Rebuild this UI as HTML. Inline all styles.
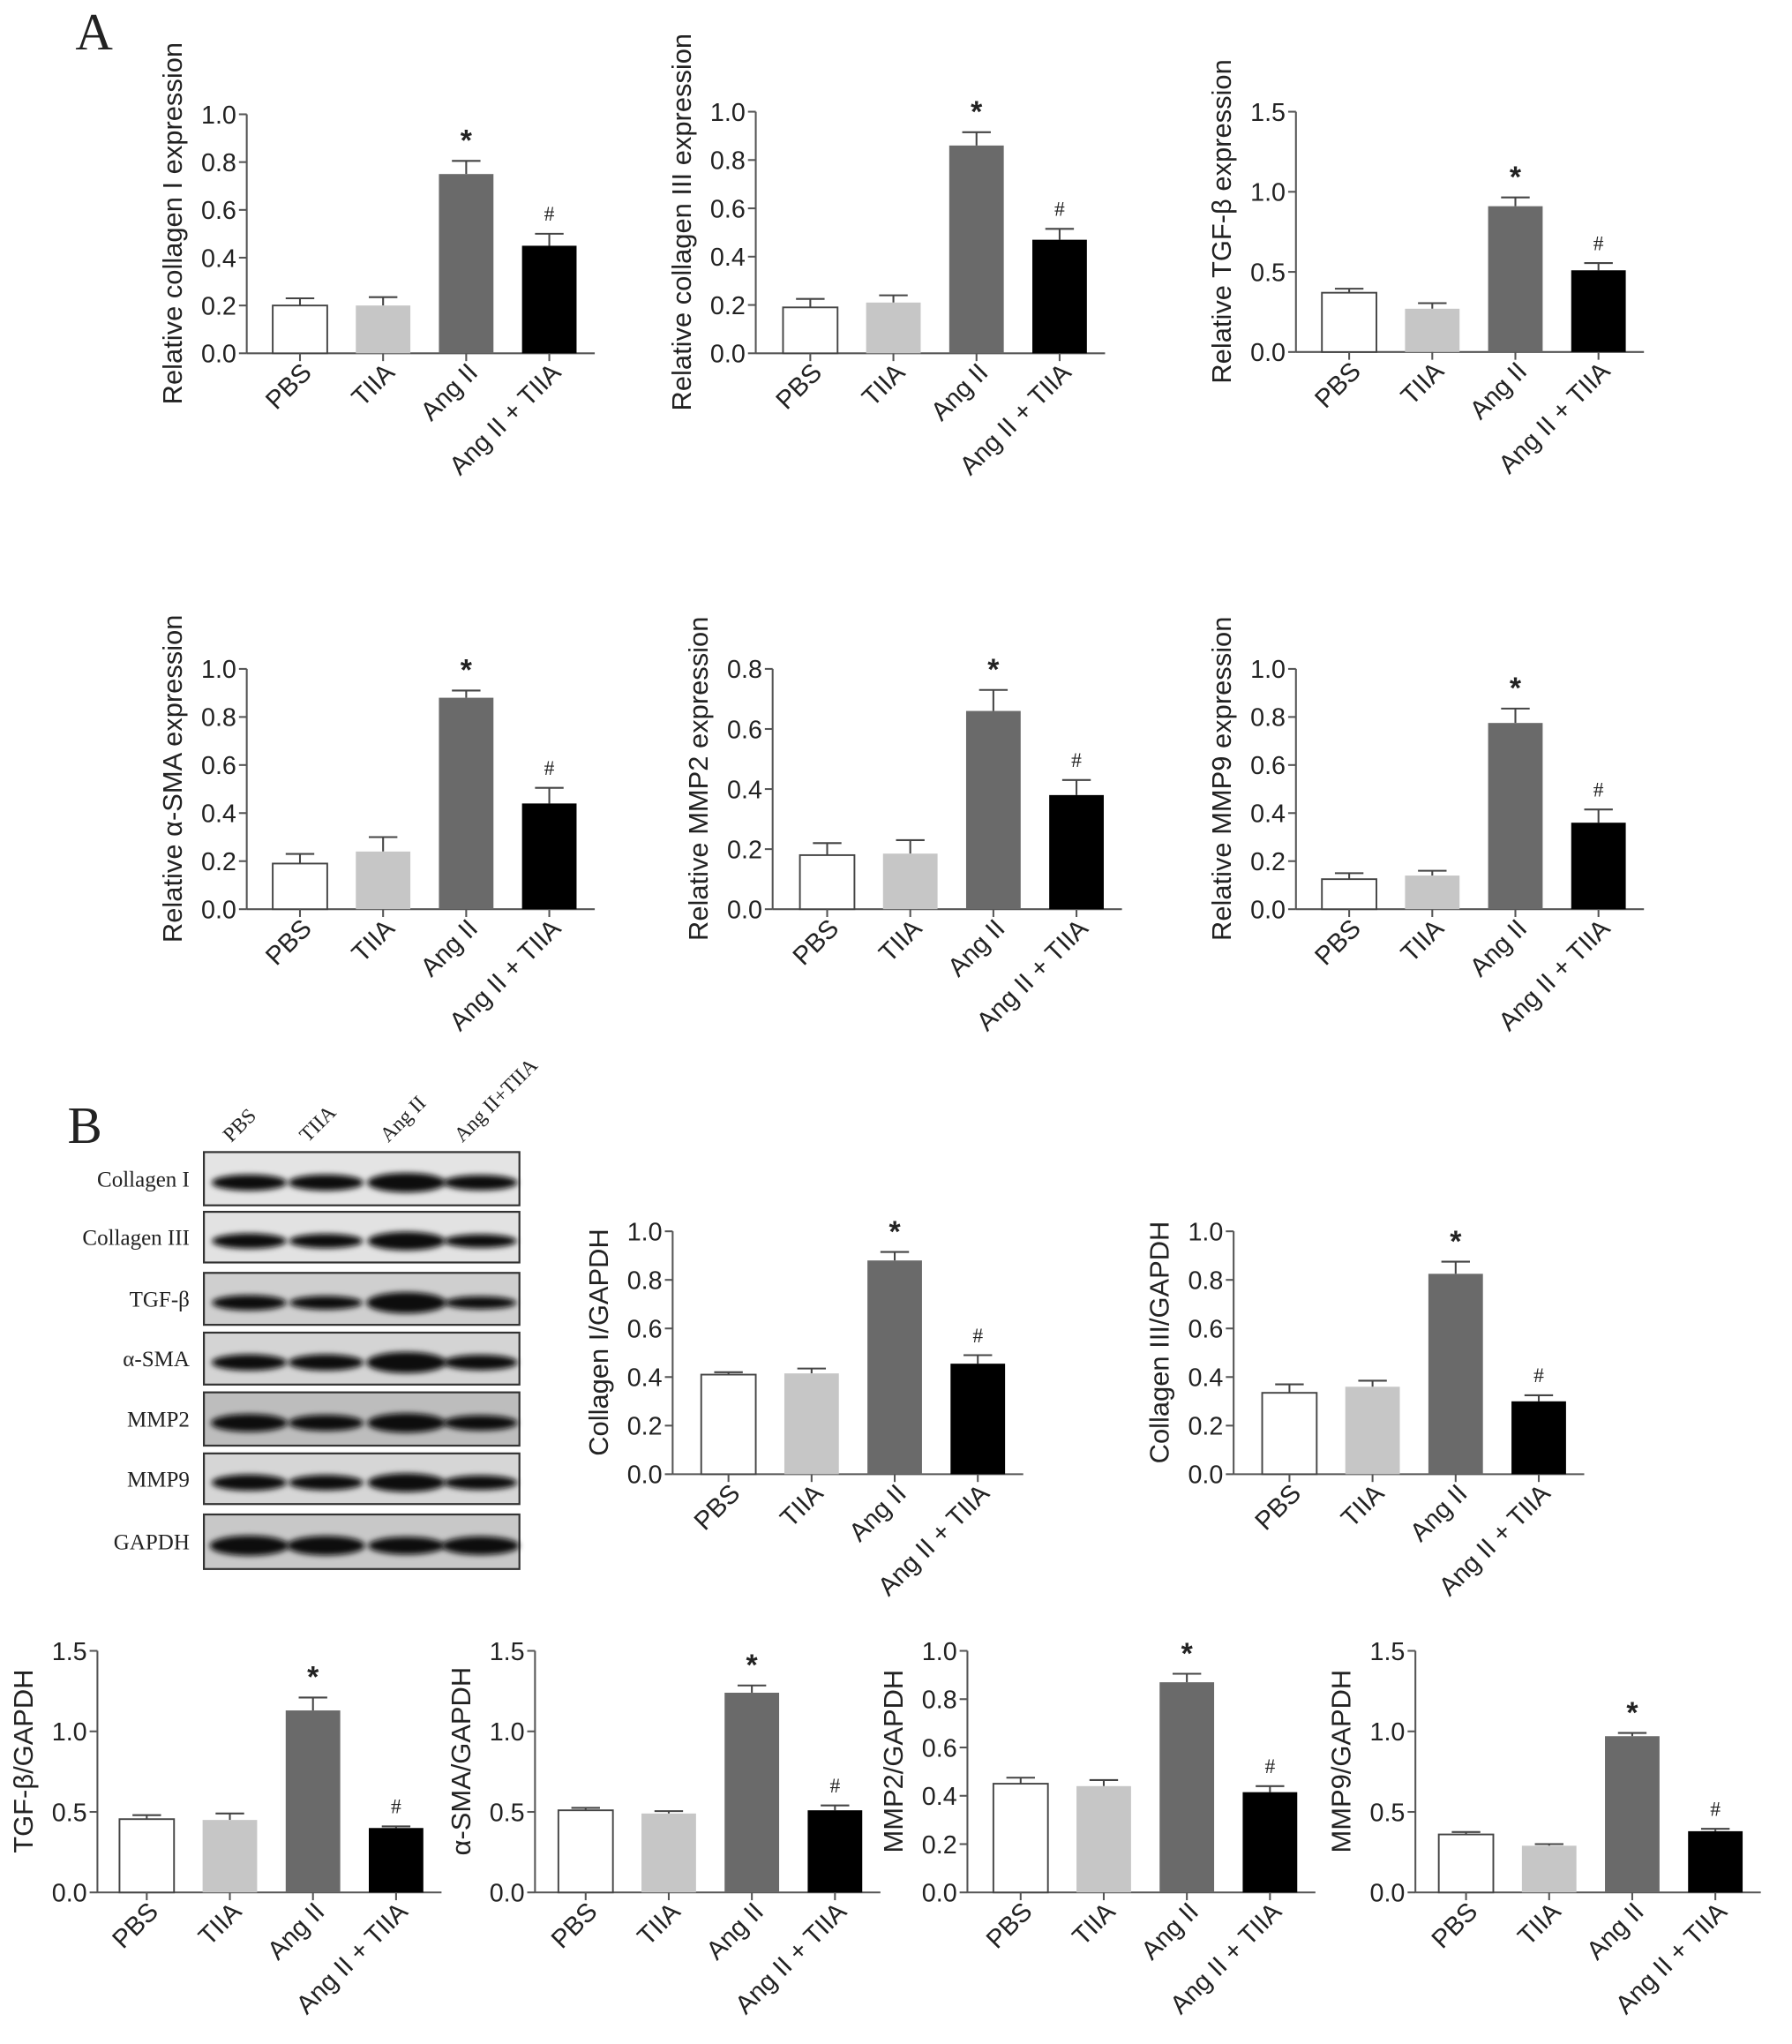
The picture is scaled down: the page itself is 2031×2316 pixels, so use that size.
<!DOCTYPE html>
<html><head><meta charset="utf-8"><style>
html,body{margin:0;padding:0;background:#fff;}
svg{display:block;}
text{font-family:"Liberation Sans",Arial,sans-serif;fill:#222;}
.serif{font-family:"Liberation Serif","Times New Roman",serif;}
</style></head><body>
<svg id="fig" width="2031" height="2316" viewBox="0 0 1380 1573.7" xmlns="http://www.w3.org/2000/svg">
<defs><filter id="blur" x="-20%" y="-50%" width="140%" height="200%"><feGaussianBlur stdDeviation="2.2"/></filter></defs>
<text class="serif" x="58" y="38" font-size="40">A</text>
<text class="serif" x="52" y="880" font-size="40">B</text>
<g id="blot"></g>
<g id="charts"></g>
</svg>
<script>
const categories = ["PBS","TIIA","Ang II","Ang II + TIIA"];
const colI_means = [0.20,0.20,0.75,0.45];   const colI_err = [0.03,0.035,0.055,0.05];
const colIII_means = [0.19,0.21,0.86,0.47]; const colIII_err = [0.035,0.03,0.055,0.045];
const tgf_means = [0.37,0.27,0.91,0.51];    const tgf_err = [0.025,0.035,0.055,0.045];
const sma_means = [0.19,0.24,0.88,0.44];    const sma_err = [0.04,0.06,0.03,0.065];
const mmp2_means = [0.18,0.185,0.66,0.38];  const mmp2_err = [0.04,0.045,0.07,0.05];
const mmp9_means = [0.125,0.14,0.775,0.36]; const mmp9_err = [0.025,0.02,0.06,0.055];
const bColI_means = [0.41,0.415,0.88,0.455]; const bColI_err = [0.01,0.02,0.035,0.035];
const bColIII_means = [0.335,0.36,0.825,0.30]; const bColIII_err = [0.035,0.025,0.05,0.025];
const bTgf_means = [0.455,0.45,1.13,0.40];  const bTgf_err = [0.025,0.04,0.08,0.01];
const bSma_means = [0.51,0.49,1.24,0.51];   const bSma_err = [0.015,0.015,0.045,0.03];
const bMmp2_means = [0.45,0.44,0.87,0.415]; const bMmp2_err = [0.025,0.025,0.035,0.025];
const bMmp9_means = [0.36,0.29,0.97,0.38];  const bMmp9_err = [0.015,0.01,0.02,0.015];
const ticks10 = [0,0.2,0.4,0.6,0.8,1.0];
const ticks08 = [0,0.2,0.4,0.6,0.8];
const ticks15 = [0,0.5,1.0,1.5];
const blotRows = ["Collagen I","Collagen III","TGF-β","α-SMA","MMP2","MMP9","GAPDH"];
const blotIntensity = [[1,1,1.4,0.9],[0.9,0.8,1.3,0.7],[0.9,0.7,1.6,0.6],[1,1,1.6,0.9],[1.2,1.0,1.4,0.9],[1,0.9,1.3,0.8],[1.5,1.4,1.2,1.3]];

const NS="http://www.w3.org/2000/svg";
function mk(tag,attrs,parent){const e=document.createElementNS(NS,tag);for(const k in attrs)e.setAttribute(k,attrs[k]);parent.appendChild(e);return e;}

const charts=[
 {name:"collagen-i-chart",title:"Relative collagen I expression",m:colI_means,e:colI_err,t:ticks10,max:1.0,ax:190,top:88,bot:272,b0:210,fmt:1},
 {name:"collagen-iii-chart",title:"Relative collagen III expression",m:colIII_means,e:colIII_err,t:ticks10,max:1.0,ax:582,top:86,bot:272,b0:603,fmt:1},
 {name:"tgf-beta-chart",title:"Relative TGF-β expression",m:tgf_means,e:tgf_err,t:ticks15,max:1.5,ax:998,top:86,bot:271,b0:1018,fmt:1},
 {name:"alpha-sma-chart",title:"Relative α-SMA expression",m:sma_means,e:sma_err,t:ticks10,max:1.0,ax:190,top:515,bot:700,b0:210,fmt:1},
 {name:"mmp2-chart",title:"Relative MMP2 expression",m:mmp2_means,e:mmp2_err,t:ticks08,max:0.8,ax:595,top:515,bot:700,b0:616,fmt:1},
 {name:"mmp9-chart",title:"Relative MMP9 expression",m:mmp9_means,e:mmp9_err,t:ticks10,max:1.0,ax:998,top:515,bot:700,b0:1018,fmt:1},
 {name:"collagen-i-gapdh-chart",title:"Collagen I/GAPDH",m:bColI_means,e:bColI_err,t:ticks10,max:1.0,ax:518,top:948,bot:1135,b0:540,fmt:1},
 {name:"collagen-iii-gapdh-chart",title:"Collagen III/GAPDH",m:bColIII_means,e:bColIII_err,t:ticks10,max:1.0,ax:950,top:948,bot:1135,b0:972,fmt:1},
 {name:"tgf-beta-gapdh-chart",title:"TGF-β/GAPDH",m:bTgf_means,e:bTgf_err,t:ticks15,max:1.5,ax:75,top:1271,bot:1457,b0:92,fmt:1},
 {name:"alpha-sma-gapdh-chart",title:"α-SMA/GAPDH",m:bSma_means,e:bSma_err,t:ticks15,max:1.5,ax:412,top:1271,bot:1457,b0:430,fmt:1},
 {name:"mmp2-gapdh-chart",title:"MMP2/GAPDH",m:bMmp2_means,e:bMmp2_err,t:ticks10,max:1.0,ax:745,top:1271,bot:1457,b0:765,fmt:1},
 {name:"mmp9-gapdh-chart",title:"MMP9/GAPDH",m:bMmp9_means,e:bMmp9_err,t:ticks15,max:1.5,ax:1090,top:1271,bot:1457,b0:1108,fmt:1}
];
const fills=["#ffffff","#c6c6c6","#6a6a6a","#000000"];
const root=document.getElementById("charts");
charts.forEach(c=>{
  const g=mk("g",{},root);
  
  
  const y=v=>c.bot-(v/c.max)*(c.bot-c.top);
  const bw=42, step=64;
  const xc=i=>c.b0+i*step+bw/2;
  const axEnd=c.b0+3*step+bw+14;
  const ya=mk("line",{x1:c.ax,y1:c.top,x2:c.ax,y2:c.bot,stroke:"#555","stroke-width":1.4},g);
  
  
  const xa=mk("line",{x1:c.ax,y1:c.bot,x2:axEnd,y2:c.bot,stroke:"#555","stroke-width":1.4},g);
  
  
  c.t.forEach(v=>{
    mk("line",{x1:c.ax-6,y1:y(v),x2:c.ax,y2:y(v),stroke:"#555","stroke-width":1.4},g);
    const tl=mk("text",{x:c.ax-8,y:y(v)+7,"font-size":19.5,"text-anchor":"end"},g);
    tl.textContent=v.toFixed(c.fmt);
    
    
  });
  const tx=c.ax-50, ty=(c.top+c.bot)/2-8;
  const tt=mk("text",{x:tx,y:ty,"font-size":21,"text-anchor":"middle",transform:`rotate(-90 ${tx} ${ty})`},g);
  tt.textContent=c.title;
  
  
  categories.forEach((cat,i)=>{
    const x0=c.b0+i*step;
    const v=c.m[i], ev=v+c.e[i];
    const eb=mk("line",{x1:xc(i),y1:y(v),x2:xc(i),y2:y(ev),stroke:"#444","stroke-width":1.4},g);
    
    
    mk("line",{x1:xc(i)-11,y1:y(ev),x2:xc(i)+11,y2:y(ev),stroke:"#444","stroke-width":1.4},g);
    const r=mk("rect",{x:x0,y:y(v),width:bw,height:c.bot-y(v),fill:fills[i],stroke:i==0?"#444":"none","stroke-width":1.3},g);
    
    
    mk("line",{x1:xc(i),y1:c.bot,x2:xc(i),y2:c.bot+6,stroke:"#555","stroke-width":1.4},g);
    const lx=xc(i)+10, ly=c.bot+16;
    const xl=mk("text",{x:lx,y:ly,"font-size":20,"text-anchor":"end",transform:`rotate(-45 ${lx} ${ly})`},g);
    xl.textContent=cat;
    
    
    if(i==2){const s=mk("text",{x:xc(i),y:y(ev)-8,"font-size":23,"text-anchor":"middle","font-weight":"bold"},g);s.textContent="*";
      
      }
    if(i==3){const s=mk("text",{x:xc(i),y:y(ev)-10,"font-size":16,"text-anchor":"middle",class:"serif"},g);s.textContent="#";
      
      }
  });
});
const bg=document.getElementById("blot");
const rowY=[887,933,980,1026,1072,1119,1166], rowH=[41,39,40,40,41,39,42];
const bgFill=["#e4e4e4","#e2e2e2","#cfcfcf","#d4d4d4","#bdbdbd","#d6d6d6","#c8c8c8"];
const lanes=[192,251,313,370];
["PBS","TIIA","Ang II","Ang II+TIIA"].forEach((l,i)=>{
  const lx=lanes[i]-14, ly=880;
  const t=mk("text",{x:lx,y:ly,"font-size":16,class:"serif",transform:`rotate(-45 ${lx} ${ly})`},bg);
  t.textContent=l;
  
  
});
blotRows.forEach((name,r)=>{
  const y0=rowY[r],h=rowH[r];
  const box=mk("rect",{x:157,y:y0,width:243,height:h,fill:bgFill[r],stroke:"#333","stroke-width":1.5},bg);
  
  
  blotIntensity[r].forEach((k,i)=>{
    mk("ellipse",{cx:lanes[i],cy:y0+h/2+3,rx:26+k*3,ry:3+k*3.2,fill:"#080808",filter:"url(#blur)"},bg);
  });
  const t=mk("text",{x:146,y:y0+h/2+6,"font-size":17,"text-anchor":"end",class:"serif"},bg);
  t.textContent=name;
  
  
});
</script>
</body></html>
